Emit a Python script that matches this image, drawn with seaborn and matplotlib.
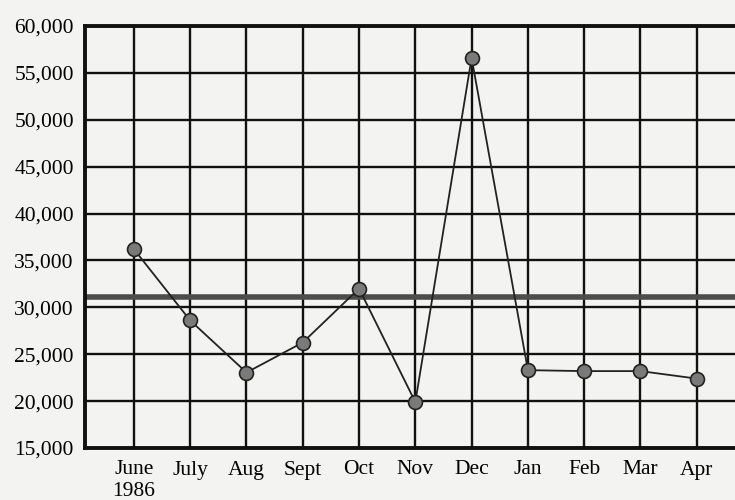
import matplotlib
matplotlib.use("Agg")
import matplotlib.pyplot as plt
import seaborn as sns
import pandas as pd

# monthly values (June 1986 - Apr 1987)
months = ["June\n1986", "July", "Aug", "Sept", "Oct", "Nov", "Dec", "Jan", "Feb", "Mar", "Apr"]
values = [36200, 28600, 23050, 26250, 32000, 19900, 56600, 23300, 23200, 23200, 22400]
average = 31100
y_ticks = [15000, 20000, 25000, 30000, 35000, 40000, 45000, 50000, 55000, 60000]

df = pd.DataFrame({"pos": range(len(months)), "value": values})

sns.set_style("white")
plt.rcParams["font.family"] = ["Liberation Serif", "DejaVu Serif"]

bg = "#f3f3f1"
fig = plt.figure(figsize=(7.35, 5.0), dpi=100, facecolor=bg)
ax = fig.add_axes([0.1156, 0.104, 0.8844, 0.844])
ax.set_facecolor(bg)

# grid
ax.set_xticks(df["pos"])
ax.set_yticks(y_ticks)
ax.grid(True, color="#111111", linewidth=1.7)
ax.set_axisbelow(True)

# average line
ax.axhline(average, color="#4d4d4d", linewidth=4.0, zorder=2)

sns.lineplot(data=df, x="pos", y="value", ax=ax, color="#222222", linewidth=1.3,
             marker="o", markersize=10, markerfacecolor="#7a7a7a",
             markeredgecolor="#222222", markeredgewidth=1.2, zorder=3)

ax.set_xlim(-0.87, 10.68)
ax.set_ylim(15000, 60000)
ax.set_xticklabels(months, fontsize=15.5, va="top")
ax.set_yticklabels([f"{v:,}" for v in y_ticks], fontsize=15.5)
ax.tick_params(axis="both", length=0, colors="#000000")
ax.tick_params(axis="y", pad=8)
ax.tick_params(axis="x", pad=9)
ax.set_xlabel("")
ax.set_ylabel("")

for side in ["left", "top", "bottom"]:
    ax.spines[side].set_color("#111111")
    ax.spines[side].set_linewidth(2.8)
ax.spines["right"].set_visible(False)

fig.savefig("out.png", dpi=100, facecolor=bg)
